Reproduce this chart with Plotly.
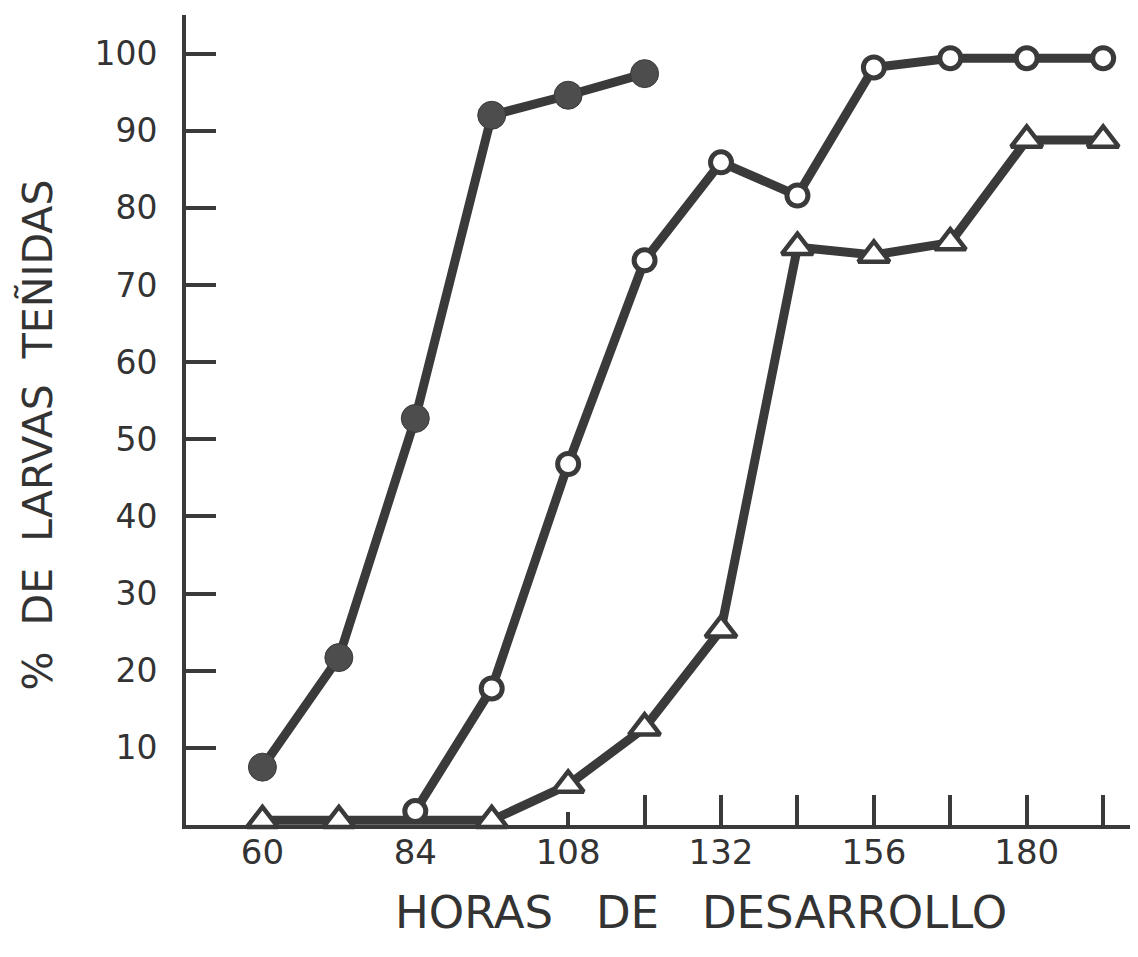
import plotly.graph_objects as go

# Data
hours_filled = [60, 72, 84, 96, 108, 120]
pct_filled = [7.5, 21.7, 52.7, 92.0, 94.6, 97.4]

hours_open = [84, 96, 108, 120, 132, 144, 156, 168, 180, 192]
pct_open = [1.8, 17.7, 46.8, 73.2, 85.9, 81.6, 98.2, 99.4, 99.4, 99.4]

hours_tri = [60, 72, 96, 108, 120, 132, 144, 156, 168, 180, 192]
pct_tri = [0.6, 0.6, 0.6, 5.2, 12.6, 25.3, 74.9, 73.9, 75.5, 88.8, 88.8]

x_label_vals = [60, 84, 108, 132, 156, 180]
x_tick_vals = [120, 132, 144, 156, 168, 180, 192]
x_short_tick_vals = [108]
y_tick_vals = [10, 20, 30, 40, 50, 60, 70, 80, 90, 100]

x_title = "HORAS   DE   DESARROLLO"
y_title = "%  DE  LARVAS  TEÑIDAS"

INK = "#3a3a3a"
TXT = "#333333"
FONT = "DejaVu Sans"

fig = go.Figure()

fig.add_trace(go.Scatter(
    x=hours_tri, y=pct_tri, mode="lines+markers",
    line=dict(color=INK, width=9),
    marker=dict(symbol="triangle-up", size=27, color="white",
                line=dict(color=INK, width=4.5)),
    cliponaxis=False, showlegend=False,
))
fig.add_trace(go.Scatter(
    x=hours_open, y=pct_open, mode="lines+markers",
    line=dict(color=INK, width=9),
    marker=dict(symbol="circle", size=21, color="white",
                line=dict(color=INK, width=5)),
    cliponaxis=False, showlegend=False,
))
fig.add_trace(go.Scatter(
    x=hours_filled, y=pct_filled, mode="lines+markers",
    line=dict(color=INK, width=9),
    marker=dict(symbol="circle", size=28, color="#4d4d4d",
                line=dict(color=INK, width=1)),
    cliponaxis=False, showlegend=False,
))

fig.update_layout(
    width=1130, height=949,
    paper_bgcolor="white", plot_bgcolor="white",
    margin=dict(l=178, r=3, t=7, b=132),
    font=dict(family=FONT, color=TXT),
    xaxis=dict(
        range=[48, 197], showgrid=False, zeroline=False,
        showline=True, linecolor=INK, linewidth=4,
        tickmode="array", tickvals=x_label_vals,
        ticktext=[str(v) for v in x_label_vals],
        ticks="", tickfont=dict(size=34, family=FONT, color=TXT),
        ticklabelstandoff=-6,
    ),
    xaxis2=dict(
        range=[48, 197], overlaying="x", anchor="y", side="bottom",
        showgrid=False, zeroline=False, showline=False,
        tickmode="array", tickvals=x_tick_vals,
        ticktext=["" for _ in x_tick_vals],
        ticks="inside", ticklen=30, tickwidth=4, tickcolor=INK,
        minor=dict(tickmode="array", tickvals=x_short_tick_vals,
                   ticks="inside", ticklen=13, tickwidth=4, tickcolor=INK),
    ),
    yaxis=dict(
        range=[0, 105], showgrid=False, zeroline=False,
        showline=True, linecolor=INK, linewidth=4,
        tickmode="array", tickvals=y_tick_vals,
        ticktext=[str(v) for v in y_tick_vals],
        ticks="inside", ticklen=30, tickwidth=4, tickcolor=INK,
        tickfont=dict(size=33, family=FONT, color=TXT),
        ticklabelstandoff=18,
    ),
    annotations=[
        dict(text=x_title, xref="paper", yref="paper",
             x=0.543, y=-0.1086, xanchor="center", yanchor="middle",
             showarrow=False, font=dict(size=45, family=FONT, color=TXT)),
        dict(text=y_title, xref="paper", yref="paper", textangle=-90,
             x=-0.1555, y=0.4815, xanchor="center", yanchor="middle",
             showarrow=False, font=dict(size=41, family=FONT, color=TXT)),
    ],
)

# dummy trace to activate xaxis2
fig.add_trace(go.Scatter(x=[48], y=[None], xaxis="x2", showlegend=False,
                         hoverinfo="skip"))

fig.write_html("out.html")
